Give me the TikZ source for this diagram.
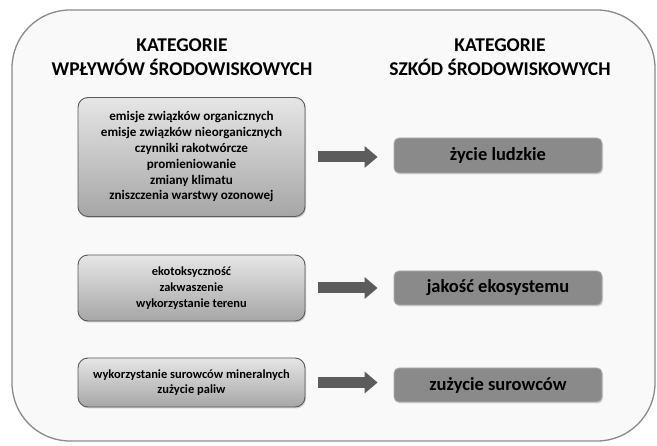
\documentclass[tikz,border=0pt]{standalone}
\usepackage{fontspec}
\setmainfont{Carlito}
\usetikzlibrary{shadows,arrows.meta}
\definecolor{frameline}{HTML}{8A8A8A}
\definecolor{boxline}{HTML}{5A5A5A}
\definecolor{darkbox}{HTML}{8A8A8A}
\definecolor{arrowgray}{HTML}{5C5C5C}
\definecolor{shadetop}{HTML}{E6E6E6}
\definecolor{shadebot}{HTML}{A6A6A6}
\tikzset{
  heading/.style={align=center, font=\fontsize{19.5}{24}\selectfont\bfseries, text=black},
  leftbox/.style={draw=boxline, line width=0.9pt, rounded corners=10pt, top color=shadetop, bottom color=shadebot,
    align=center, inner sep=0pt, minimum width=227pt, text=black,
    drop shadow={shadow xshift=1pt, shadow yshift=-1.5pt, opacity=0.35}},
  rightbox/.style={draw=gray!65, line width=0.8pt, fill=darkbox, rounded corners=5pt, align=center, inner sep=0pt,
    minimum width=208pt, minimum height=34pt, font=\fontsize{18.5}{20}\selectfont\bfseries, text=black,
    drop shadow={shadow xshift=1pt, shadow yshift=-1.5pt, opacity=0.3}},
  bigarrow/.style={draw=arrowgray, line width=11pt, -{Triangle[length=13pt,width=21pt]}, arrowgray}
}
\begin{document}
\begin{tikzpicture}[x=1pt,y=-1pt]
\useasboundingbox (0,0) rectangle (657,446);
\fill[white] (0,0) rectangle (657,446);
\draw[frameline, line width=1.3pt, fill=gray!5, rounded corners=58pt] (12,10) rectangle (655,441);

\node[heading] (h1) at (182,57) {KATEGORIE\\WPŁYWÓW ŚRODOWISKOWYCH};
\node[heading] (h2) at (500,57) {KATEGORIE\\SZKÓD ŚRODOWISKOWYCH};

\node[leftbox, minimum height=119pt, font=\fontsize{13.1}{15.8}\selectfont\bfseries] (l1) at (191.5,157)
  {emisje związków organicznych\\emisje związków nieorganicznych\\czynniki rakotwórcze\\promieniowanie\\zmiany klimatu\\zniszczenia warstwy ozonowej};
\node[leftbox, minimum height=66pt, font=\fontsize{12.4}{16}\selectfont\bfseries] (l2) at (191.5,288)
  {ekotoksyczność\\zakwaszenie\\wykorzystanie terenu};
\node[leftbox, minimum height=49pt, font=\fontsize{12.5}{15}\selectfont\bfseries] (l3) at (191.5,382.5)
  {wykorzystanie surowców mineralnych\\zużycie paliw};

\node[rightbox, minimum height=35pt] (r1) at (498,155.5) {życie ludzkie};
\node[rightbox] (r2) at (498,288) {jakość ekosystemu};
\node[rightbox] (r3) at (498,385) {zużycie surowców};

\draw[bigarrow] ([xshift=13pt]l1.east) -- ([xshift=-16pt]r1.west |- l1.east);
\draw[bigarrow] ([xshift=13pt]l2.east) -- ([xshift=-16pt]r2.west |- l2.east);
\draw[bigarrow] ([xshift=13pt]l3.east) -- ([xshift=-16pt]r3.west |- l3.east);
\end{tikzpicture}
\end{document}
